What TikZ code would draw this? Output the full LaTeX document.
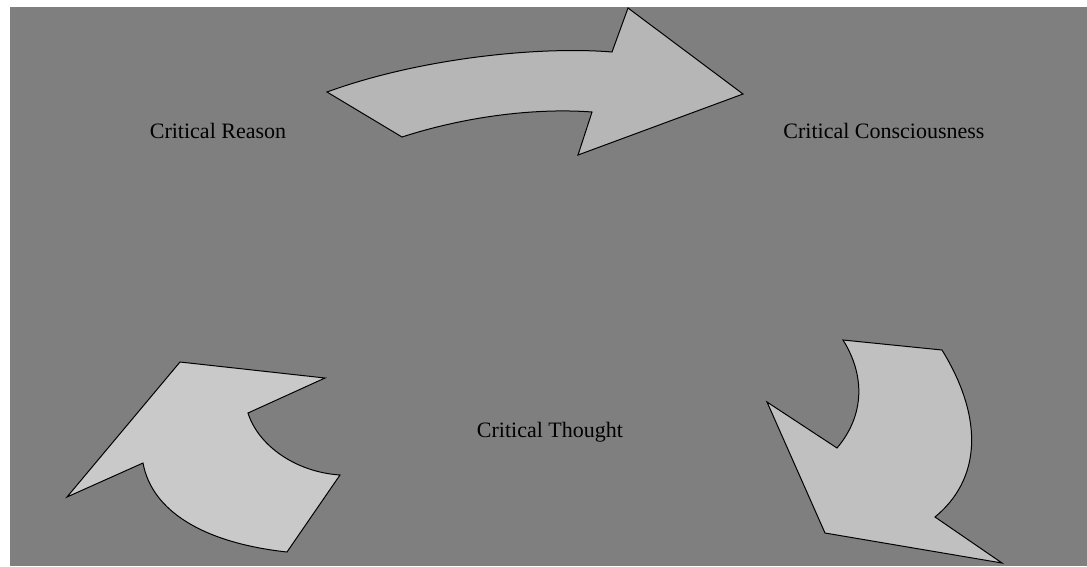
\documentclass[tikz,border=0pt]{standalone}
\usepackage{fontspec}
\setmainfont{Liberation Serif}
\definecolor{bg}{HTML}{7F7F7F}
\definecolor{arrA}{HTML}{B6B6B6}
\definecolor{arrB}{HTML}{C9C9C9}
\definecolor{arrC}{HTML}{C0C0C0}
\begin{document}
\begin{tikzpicture}[x=1pt,y=-1pt,
  bigarrow/.style={draw=black,line width=1pt,line join=miter},
  lbl/.style={font=\fontsize{22}{26}\selectfont,text=black,inner sep=0pt}]
\useasboundingbox (0,0) rectangle (1087,566);
\fill[white] (0,0) rectangle (1087,566);
\fill[bg] (10,7) rectangle (1087,566);
% top arrow
\filldraw[bigarrow,fill=arrA] (327,92) -- (402,137)
  .. controls (470,115) and (540,108) .. (592,112)
  -- (578,155) -- (743,94) -- (628,8) -- (612,52)
  .. controls (540,46) and (420,58) .. (327,92) -- cycle;
% lower-left arrow
\filldraw[bigarrow,fill=arrB] (67,497) -- (180,362) -- (325,378) -- (248,413)
  .. controls (258,445) and (295,472) .. (340,475)
  -- (287,552)
  .. controls (205,543) and (152,512) .. (143,463) -- cycle;
% lower-right arrow
\filldraw[bigarrow,fill=arrC] (843,340) -- (942,350)
  .. controls (985,420) and (980,480) .. (935,517)
  -- (1002,563) -- (825,533) -- (767,402) -- (837,448)
  .. controls (865,415) and (865,375) .. (843,340) -- cycle;
\node[lbl] (reason) at (218,131) {Critical Reason};
\node[lbl] (consc) at (884,131) {Critical Consciousness};
\node[lbl] (thought) at (550,432) {Critical Thought};
\end{tikzpicture}
\end{document}
